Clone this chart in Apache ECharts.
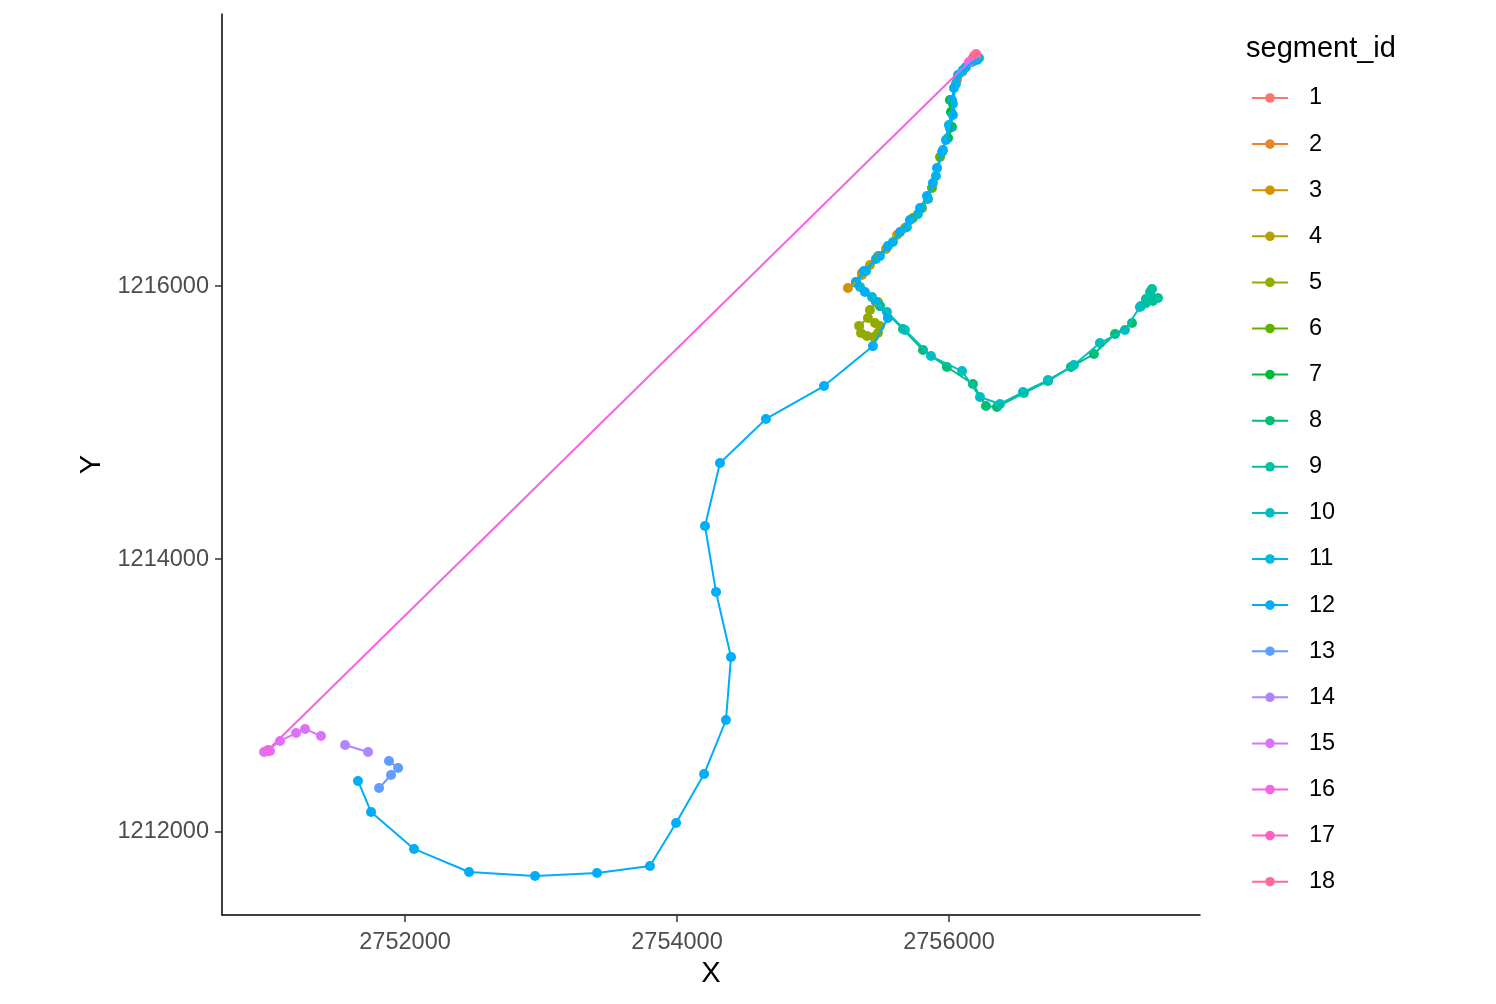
<!DOCTYPE html>
<html>
<head>
<meta charset="utf-8">
<script src="https://cdn.jsdelivr.net/npm/echarts@6/dist/echarts.min.js"></script>
<style>
html,body{margin:0;padding:0;background:#fff;}
#chart{width:1496px;height:1004px;}
</style>
</head>
<body>
<div id="chart"></div>
<script>
// ---- data (x = easting, y = northing), one array per segment_id ----
const seg1 = [[2756199,1217692],[2756176,1217670]];
const seg2 = [[2756096,1217568],[2756059,1217509]];
const seg3 = [[2755257,1215985],[2755316,1216029],[2755360,1216081]];
const seg4 = [[2755360,1216095],[2755419,1216154],[2755478,1216220],[2755537,1216271],[2755618,1216374],[2755676,1216425]];
const seg5 = [[2755478,1215883],[2755419,1215824],[2755404,1215766],[2755339,1215708],[2755353,1215656],[2755397,1215634],[2755448,1215627],[2755478,1215656],[2755493,1215707],[2755456,1215729]];
const seg6 = [[2755934,1216945],[2755875,1216718],[2755801,1216571],[2755735,1216498]];
const seg7 = [[2756007,1217363],[2756015,1217275],[2756022,1217165],[2755993,1217084]];
const seg8 = [[2755493,1215853],[2755662,1215685],[2755809,1215531],[2755985,1215407],[2756176,1215282],[2756272,1215121],[2756353,1215114],[2756551,1215216],[2756728,1215304],[2756897,1215407],[2757066,1215502],[2757221,1215648],[2757346,1215729]];
const seg9 = [[2757412,1215853],[2757448,1215905],[2757479,1215956],[2757493,1215978],[2757485,1215919],[2757537,1215912],[2757500,1215890],[2757448,1215875]];
const seg10 = [[2757404,1215846],[2757294,1215678],[2757110,1215582],[2756919,1215421],[2756728,1215311],[2756544,1215223],[2756375,1215136],[2756228,1215187],[2756096,1215377],[2755868,1215487],[2755676,1215678],[2755544,1215810],[2755434,1215919],[2755346,1215993]];
const seg11 = [[2755316,1216022],[2755390,1216110],[2755493,1216220],[2755588,1216322],[2755691,1216432],[2755772,1216527],[2755846,1216637],[2755904,1216806],[2755956,1216996],[2756000,1217179],[2756029,1217333],[2756051,1217480],[2756103,1217582],[2756169,1217641],[2756221,1217670]];
const seg12 = [[2756206,1217656],[2756125,1217604],[2756066,1217546],[2756037,1217451],[2756022,1217363],[2756029,1217253],[2756007,1217158],[2755978,1217070],[2755949,1216982],[2755912,1216865],[2755882,1216755],[2755838,1216659],[2755787,1216571],[2755713,1216484],[2755640,1216396],[2755551,1216293],[2755463,1216198],[2755375,1216110],[2755316,1216029],[2755382,1215956],[2755463,1215883],[2755551,1215766],[2755441,1215560],[2755081,1215267],[2754654,1215026],[2754316,1214703],[2754206,1214242],[2754287,1213758],[2754397,1213282],[2754360,1212820],[2754199,1212425],[2753993,1212066],[2753801,1211751],[2753412,1211700],[2752956,1211678],[2752471,1211707],[2752066,1211876],[2751750,1212147],[2751654,1212374]];
const seg13 = [[2751882,1212520],[2751949,1212469],[2751897,1212418],[2751809,1212322]];
const seg14 = [[2751559,1212637],[2751728,1212586]];
const seg15 = [[2751382,1212703],[2751265,1212755],[2751199,1212725],[2751081,1212667],[2750993,1212601],[2750963,1212586],[2751007,1212593]];
const seg16 = [[2750985,1212593],[2756147,1217641],[2756184,1217670]];
const seg17 = [[2756199,1217685]];
const seg18 = [[2756199,1217700],[2756184,1217685]];

const segmentIds = ['1','2','3','4','5','6','7','8','9','10','11','12','13','14','15','16','17','18'];
const segments = [seg1,seg2,seg3,seg4,seg5,seg6,seg7,seg8,seg9,seg10,seg11,seg12,seg13,seg14,seg15,seg16,seg17,seg18];
const xTicks = [2752000, 2754000, 2756000];
const yTicks = [1212000, 1214000, 1216000];

// ggplot2 default hue palette: hcl(h, c=100, l=65)
function hcl(h, c, l) {
  const WY = 100, Wu = 0.1978398, Wv = 0.4683363;
  const hr = h * Math.PI / 180;
  const U = c * Math.cos(hr), V = c * Math.sin(hr);
  const Y = WY * (l > 7.999592 ? Math.pow((l + 16) / 116, 3) : l / 903.3);
  const u = U / (13 * l) + Wu, v = V / (13 * l) + Wv;
  const X = 9 * Y * u / (4 * v);
  const Z = -X / 3 - 5 * Y + 3 * Y / v;
  const g = t => t > 0.00304 ? 1.055 * Math.pow(t, 1 / 2.4) - 0.055 : 12.92 * t;
  const ch = t => Math.round(Math.max(0, Math.min(1, t)) * 255).toString(16).padStart(2, '0');
  const R = g((3.240479 * X - 1.537150 * Y - 0.498535 * Z) / WY);
  const G = g((-0.969256 * X + 1.875992 * Y + 0.041556 * Z) / WY);
  const B = g((0.055648 * X - 0.204043 * Y + 1.057311 * Z) / WY);
  return '#' + ch(R) + ch(G) + ch(B);
}
const n = segmentIds.length;
const colors = segmentIds.map((_, i) => hcl(15 + i * 360 / n, 100, 65));

const FONT = "'Liberation Sans', Arial, sans-serif";

const series = [];
segmentIds.forEach((id, i) => {
  series.push({
    name: id, type: 'line', data: segments[i], z: 3,
    showSymbol: false, symbol: 'circle', symbolSize: 10,
    lineStyle: { width: 2, color: colors[i] },
    itemStyle: { color: colors[i] },
    animation: false, silent: true
  });
});
segmentIds.forEach((id, i) => {
  series.push({
    name: id, type: 'scatter', data: segments[i], z: 2,
    symbol: 'circle', symbolSize: 10,
    itemStyle: { color: colors[i], opacity: 1 },
    animation: false, silent: true
  });
});

const plain = v => String(Math.round(v));

const chart = echarts.init(document.getElementById('chart'), null, { renderer: 'canvas', width: 1496, height: 1004 });
chart.setOption({
  backgroundColor: '#ffffff',
  animation: false,
  textStyle: { fontFamily: FONT },
  grid: { left: 222, top: 14, width: 978, height: 901, containLabel: false },
  xAxis: {
    type: 'value', min: 2750654, max: 2757846,
    name: 'X', nameLocation: 'middle', nameGap: 42,
    nameTextStyle: { fontSize: 29, color: '#000', fontFamily: FONT },
    splitLine: { show: false },
    axisLine: { show: true, onZero: false, lineStyle: { color: '#000', width: 1.5 } },
    axisTick: { show: true, customValues: xTicks, length: 7, lineStyle: { color: '#333', width: 1.5 } },
    axisLabel: { customValues: xTicks, formatter: plain, fontSize: 23.5, color: '#4D4D4D', margin: 16, fontFamily: FONT }
  },
  yAxis: {
    type: 'value', min: 1211392, max: 1217993,
    name: 'Y', nameLocation: 'middle', nameGap: 92, nameRotate: 90,
    nameTextStyle: { fontSize: 29, color: '#000', fontFamily: FONT },
    splitLine: { show: false },
    axisLine: { show: true, onZero: false, lineStyle: { color: '#000', width: 1.5 } },
    axisTick: { show: true, customValues: yTicks, length: 7, lineStyle: { color: '#333', width: 1.5 } },
    axisLabel: { customValues: yTicks, formatter: plain, fontSize: 23.5, color: '#4D4D4D', margin: 13, fontFamily: FONT }
  },
  legend: {
    orient: 'vertical', left: 1251, top: 86, padding: 0,
    itemWidth: 36, itemHeight: 12, itemGap: 22.1,
    data: segmentIds,
    textStyle: { fontSize: 23.5, color: '#000', lineHeight: 24, fontFamily: FONT, padding: [0, 0, 0, 16] },
    selectedMode: false
  },
  graphic: [{
    type: 'text', left: 1246, top: 34,
    style: { text: 'segment_id', fontSize: 29, fill: '#000', fontFamily: FONT }
  }],
  series: series
});
</script>
</body>
</html>
